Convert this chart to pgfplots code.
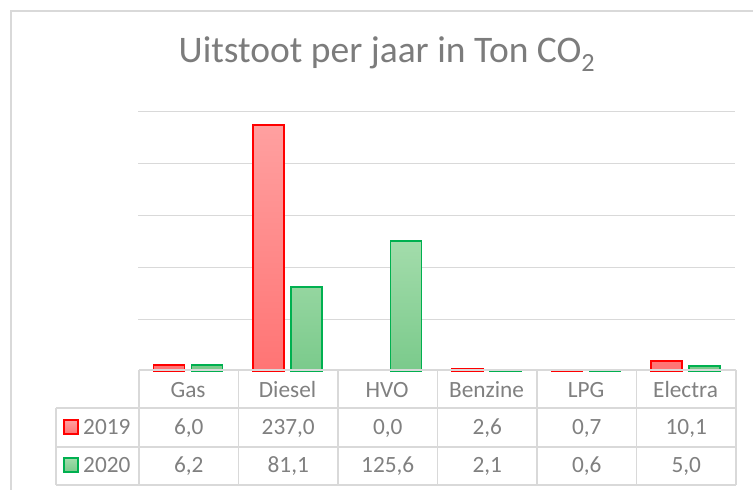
\documentclass[border=0pt]{standalone}
\usepackage{fontspec}
\setmainfont{Carlito}
\usepackage{pgfplots}
\pgfplotsset{compat=1.18}
\definecolor{gridc}{RGB}{217,217,217}
\definecolor{txt}{RGB}{128,128,128}
\definecolor{ttl}{RGB}{124,124,124}
\definecolor{redb}{RGB}{255,0,0}
\definecolor{redt}{RGB}{255,160,160}
\definecolor{redbot}{RGB}{255,116,116}
\definecolor{grnb}{RGB}{0,176,80}
\definecolor{grnt}{RGB}{163,220,171}
\definecolor{grnbot}{RGB}{122,202,139}
\begin{document}
\begin{tikzpicture}[x=1pt,y=1pt]
\useasboundingbox (0,0) rectangle (753,490);
% chart border
\draw[gridc, line width=1.5pt] (11,0) -- (11,479) -- (753,479);
% title
\node[anchor=base, text=ttl, font=\fontsize{37.5}{44}\selectfont, inner sep=0pt] at (387,427) {Uitstoot per jaar in Ton CO\textsubscript{2}};
\begin{axis}[
  at={(139,114)}, anchor=south west,
  scale only axis, width=597pt, height=260pt,
  xmin=-0.5, xmax=5.5, ymin=0, ymax=250,
  ytick={50,100,150,200,250}, yticklabels={},
  ymajorgrids, grid style={gridc, line width=1.5pt},
  axis line style={draw=none},
  xtick={0,1,2,3,4,5},
  xticklabels={Gas,Diesel,HVO,Benzine,LPG,Electra},
  major tick length=0pt,
  xticklabel style={anchor=base, yshift=-26pt, text=txt, font=\fontsize{23.3}{28}\selectfont},
  clip=false,
  ybar, bar width=31pt,
  y filter/.expression={y==0 ? nan : y},
]
\addplot[draw=redb, line width=1.5pt, top color=redt, bottom color=redbot, bar shift=-19pt]
  coordinates {(0,6.0) (1,237.0) (2,0.0) (3,2.6) (4,0.7) (5,10.1)};
\addplot[draw=grnb, line width=1.5pt, top color=grnt, bottom color=grnbot, bar shift=19pt]
  coordinates {(0,6.2) (1,81.1) (2,125.6) (3,2.1) (4,0.6) (5,5.0)};
\end{axis}
% data table
\draw[gridc, line width=1.5pt] (139,120) -- (736,120);
\foreach \yy in {82,43,5} \draw[gridc, line width=1.5pt] (56,\yy) -- (736,\yy);
\draw[gridc, line width=1.5pt] (56,82) -- (56,5);
\foreach \k in {0,...,6} \draw[gridc, line width=1.5pt] (139+99.5*\k,120) -- (139+99.5*\k,5);
% legend keys
\draw[redb, line width=1.5pt, top color=redt, bottom color=redbot] (64,56) rectangle (78,70);
\draw[grnb, line width=1.5pt, top color=grnt, bottom color=grnbot] (64,18) rectangle (78,32);
\begin{scope}[every node/.style={text=txt, font=\fontsize{23.3}{28}\selectfont, inner sep=0pt}]
\node[anchor=base west] at (83,55) {2019};
\node[anchor=base west] at (83,17) {2020};
\node[anchor=base] at (188.75,55) {6,0};
\node[anchor=base] at (288.25,55) {237,0};
\node[anchor=base] at (387.75,55) {0,0};
\node[anchor=base] at (487.25,55) {2,6};
\node[anchor=base] at (586.75,55) {0,7};
\node[anchor=base] at (686.25,55) {10,1};
\node[anchor=base] at (188.75,17) {6,2};
\node[anchor=base] at (288.25,17) {81,1};
\node[anchor=base] at (387.75,17) {125,6};
\node[anchor=base] at (487.25,17) {2,1};
\node[anchor=base] at (586.75,17) {0,6};
\node[anchor=base] at (686.25,17) {5,0};
\end{scope}
\end{tikzpicture}
\end{document}
